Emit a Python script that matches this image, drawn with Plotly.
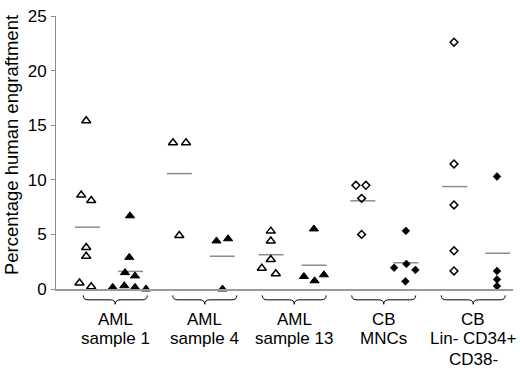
import numpy as np
import plotly.graph_objects as go

# ---- data ----
groups = ["AML1", "AML4", "AML13", "CBMNC", "CBLIN"]
label_lines = [
    ["AML", "sample 1"],
    ["AML", "sample 4"],
    ["AML", "sample 13"],
    ["CB", "MNCs"],
    ["CB", "Lin- CD34+", "CD38-"],
]
open_values = [
    [15.4, 8.6, 8.1, 3.8, 3.0, 0.55, 0.2],
    [13.4, 13.4, 4.9],
    [5.3, 4.4, 2.7, 1.9, 1.4],
    [9.5, 9.5, 8.3, 5.0],
    [22.6, 11.45, 7.7, 3.5, 1.65],
]
filled_values = [
    [6.7, 2.9, 1.5, 1.2, 0.15, 0.3, 0.15, 0.0],
    [4.4, 4.6, 0.0],
    [5.5, 1.15, 0.75, 1.3],
    [5.33, 1.95, 2.3, 1.75, 0.7],
    [10.3, 1.65, 0.88, 0.27],
]
# horizontal jitter of the dots inside each column (pixels)
open_jitter_px = [
    [-1.3, -6.3, 3.7, -1.3, -1.3, -8, 3.7],
    [-6.3, 6.7, 0],
    [-0.3, -0.3, -0.3, -9.3, 4.7],
    [-7, 3, -1.3, -1.3],
    [-0.7, -0.7, -0.7, -0.7, -0.7],
]
filled_jitter_px = [
    [-0.5, -1.2, -5.5, 4.5, -17.8, -6.2, 4.5, 15.5],
    [-5.8, 5.8, 0.2],
    [-0.2, -10.2, 0.5, 9.8],
    [0, -11.8, 0.5, 9.5, -0.5],
    [-0.7, -0.7, -0.7, -0.7],
]
y_ticks = [0, 5, 10, 15, 20, 25]

# ---- layout constants ----
W, H = 520, 370
ML, MR, MT, MB = 56, 7, 12, 81
PX_PER_GROUP = 91.8
COL_OFF = 21.5 / PX_PER_GROUP
MEAN_HALF = 12.5 / PX_PER_GROUP
plot_w = W - ML - MR
plot_h = H - MT - MB
x0 = (ML - 109) / PX_PER_GROUP
xr = [x0, x0 + plot_w / PX_PER_GROUP]

def py2paper(py):
    return (H - MB - py) / plot_h

fig = go.Figure()
mean_color = "#8c8c8c"

styles = {
    "open_tri": dict(symbol="triangle-up-open", size=8, color="black", line=dict(width=1.5, color="black")),
    "fill_tri": dict(symbol="triangle-up", size=8, color="black", line=dict(width=1, color="black")),
    "open_dia": dict(symbol="diamond-open", size=6, color="black", line=dict(width=1.5, color="black")),
    "fill_dia": dict(symbol="diamond", size=6, color="black", line=dict(width=0.6, color="black")),
}

for g, name in enumerate(groups):
    is_cb = name.startswith("CB")
    for side, vals, jit in ((-1, open_values[g], open_jitter_px[g]), (1, filled_values[g], filled_jitter_px[g])):
        cx = g + side * COL_OFF
        m = float(np.mean(vals))
        fig.add_trace(go.Scatter(
            x=[cx - MEAN_HALF, cx + MEAN_HALF], y=[m, m], mode="lines",
            line=dict(color=mean_color, width=1.5), hoverinfo="skip", showlegend=False,
        ))
        key = ("open_" if side < 0 else "fill_") + ("dia" if is_cb else "tri")
        xs = [cx + j / PX_PER_GROUP for j in jit]
        fig.add_trace(go.Scatter(
            x=xs, y=vals, mode="markers", marker=styles[key],
            cliponaxis=False, showlegend=False,
        ))

# braces and labels under each group
shapes = []
annotations = []
y_top = py2paper(295.5)
y_mid = py2paper(300)
y_tip = py2paper(304.5)
bw = 32 / PX_PER_GROUP
br = 5 / PX_PER_GROUP
line_py = [320.2, 339.6, 360.5]
for g, lines in enumerate(label_lines):
    bc = g * 0.975 + 0.068
    path = (
        f"M {bc-bw},{y_top} Q {bc-bw},{y_mid} {bc-bw+br},{y_mid} "
        f"L {bc-br},{y_mid} Q {bc},{y_mid} {bc},{y_tip} "
        f"Q {bc},{y_mid} {bc+br},{y_mid} L {bc+bw-br},{y_mid} "
        f"Q {bc+bw},{y_mid} {bc+bw},{y_top}"
    )
    shapes.append(dict(type="path", path=path, xref="x", yref="paper",
                       line=dict(color="black", width=1)))
    for k, txt in enumerate(lines):
        annotations.append(dict(
            x=bc, y=py2paper(line_py[k]), xref="x", yref="paper",
            text=txt, showarrow=False, xanchor="center", yanchor="middle",
            font=dict(size=17, color="black"),
        ))

annotations.append(dict(
    x=(11.5 - ML) / plot_w, y=py2paper(143.5), xref="paper", yref="paper",
    text="Percentage human engraftment", textangle=-90, showarrow=False,
    xanchor="center", yanchor="middle", font=dict(size=18.5, color="black"),
))

fig.update_layout(
    width=W, height=H,
    margin=dict(l=ML, r=MR, t=MT, b=MB, pad=0),
    paper_bgcolor="white", plot_bgcolor="white",
    font=dict(family="Liberation Sans, Arial, sans-serif", color="black"),
    shapes=shapes, annotations=annotations,
    xaxis=dict(range=xr, showgrid=False, zeroline=False, showticklabels=False,
               ticks="", showline=True, linecolor="#9a9a9a", linewidth=2),
    yaxis=dict(range=[0, 25], tickvals=y_ticks, ticktext=[str(v) for v in y_ticks],
               showgrid=False, zeroline=False, showline=True, linecolor="#8a8a8a",
               linewidth=1, ticks="outside", ticklen=4, tickcolor="#8a8a8a",
               tickfont=dict(size=17, color="black"), ticklabelstandoff=1),
)

fig.write_html("out.html", config={"displayModeBar": False},
               post_script="document.body.style.margin='0px';")
